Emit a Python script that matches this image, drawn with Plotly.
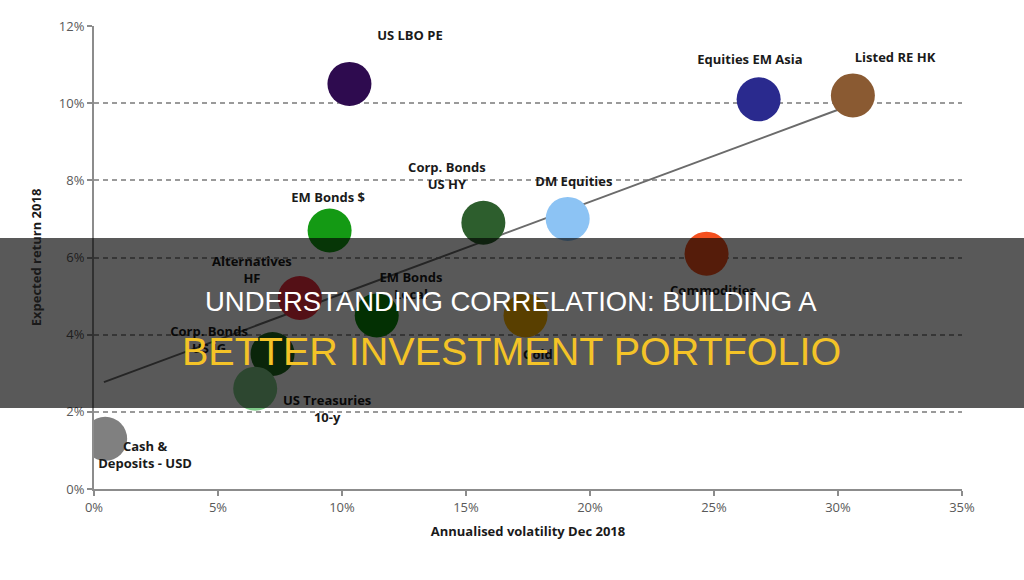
import plotly.graph_objects as go

# ---- data ----
assets = ["US LBO PE", "Equities EM Asia", "Listed RE HK", "EM Bonds $",
          "Corp. Bonds US HY", "DM Equities", "Commodities", "Alternatives HF",
          "EM Bonds Local", "Gold", "Corp. Bonds US IG", "US Treasuries 10-y",
          "Cash & Deposits - USD"]
volatility = [10.3, 26.8, 30.6, 9.5, 15.7, 19.1, 24.7, 8.3, 11.4, 17.4, 7.2, 6.5, 0.45]
exp_return = [10.5, 10.1, 10.2, 6.7, 6.9, 7.0, 6.1, 4.95, 4.5, 4.5, 3.5, 2.6, 1.3]
labels = ["US LBO PE", "Equities EM Asia", "Listed RE HK", "EM Bonds $",
          "Corp. Bonds<br>US HY", "DM Equities", "Commodities", "Alternatives<br>HF",
          "EM Bonds<br>Local", "Gold", "Corp. Bonds<br>US IG", "US Treasuries<br>10-y",
          "Cash &<br>Deposits - USD"]
colors = ["#2e0b4f", "#2a2a8e", "#8a5a32", "#149a14", "#2d5e2d", "#8cc3f4",
          "#f3501f", "#f03040", "#0a8a0a", "#ffb400", "#1e6a1e", "#80cc8a", "#808080"]

trend_x = [0.4, 30.3]
trend_y = [2.77, 9.9]

x_ticks = [0, 5, 10, 15, 20, 25, 30, 35]
y_ticks = [0, 2, 4, 6, 8, 10, 12]

title_line1 = "UNDERSTANDING CORRELATION: BUILDING A"
title_line2 = "BETTER INVESTMENT PORTFOLIO"

# label offsets from bubble centre (data units) - layout only
label_dx = [2.44, -0.35, 1.7, -0.06, -1.47, 0.25, 0.26, -1.93, 1.38, 0.5, -2.56, 2.9, 1.61]
label_dy = [1.22, 0.99, 0.95, 0.82, 1.19, 0.93, -0.99, 0.70, 0.72, -1.05, 0.34, -0.55, -0.44]

fig = go.Figure()

fig.add_trace(go.Scatter(
    x=trend_x, y=trend_y, mode="lines",
    line=dict(color="#6b6b6b", width=2), hoverinfo="skip", showlegend=False))

fig.add_trace(go.Scatter(
    x=volatility, y=exp_return, mode="markers",
    marker=dict(size=44, color=colors, line=dict(width=0), opacity=1),
    text=assets, hoverinfo="text", showlegend=False, cliponaxis=True))

fig.add_trace(go.Scatter(
    x=[v + d for v, d in zip(volatility, label_dx)],
    y=[r + d for r, d in zip(exp_return, label_dy)],
    mode="text", text=labels, textposition="middle center",
    textfont=dict(family="Open Sans", size=13, color="#1a1a1a", weight="bold"),
    hoverinfo="skip", showlegend=False, cliponaxis=False))

fig.update_layout(
    width=1024, height=580,
    margin=dict(l=94, r=62, t=26, b=91),
    paper_bgcolor="white", plot_bgcolor="white",
    font=dict(family="Open Sans", color="#595959"),
    xaxis=dict(range=[0, 35], tickmode="array", tickvals=x_ticks,
               ticktext=[f"{v}%" for v in x_ticks],
               showgrid=False, zeroline=False, showline=True,
               linecolor="#8c8c8c", linewidth=2, ticks="outside",
               ticklen=5, tickcolor="#8c8c8c", tickwidth=1.5,
               tickfont=dict(size=13, color="#595959"),
               title=dict(text="<b>Annualised volatility Dec 2018</b>",
                          font=dict(size=13, color="#1a1a1a"), standoff=12)),
    yaxis=dict(range=[0, 12], tickmode="array", tickvals=y_ticks,
               ticktext=[f"{v}%" for v in y_ticks],
               showgrid=True, gridcolor="#9a9a9a", gridwidth=1.5,
               griddash="5px,4px", zeroline=False, showline=True,
               linecolor="#8c8c8c", linewidth=2, ticks="outside",
               ticklen=5, tickcolor="#8c8c8c", tickwidth=1.5,
               tickfont=dict(size=13, color="#595959"),
               title=dict(text="<b>Expected return 2018</b>",
                          font=dict(size=13, color="#1a1a1a"), standoff=14)),
    shapes=[dict(type="rect", xref="paper", yref="paper",
                 x0=-0.2, x1=1.2, y0=(489 - 408) / 463, y1=(489 - 238) / 463,
                 fillcolor="rgba(0,0,0,0.65)", line=dict(width=0), layer="above")],
    annotations=[
        dict(text=title_line1, xref="paper", yref="paper",
             x=(511 - 94) / 868, y=(489 - 301) / 463, showarrow=False,
             xanchor="center", yanchor="middle",
             font=dict(family="Liberation Sans", size=27.5, color="#ffffff")),
        dict(text=title_line2, xref="paper", yref="paper",
             x=(511 - 94) / 868, y=(489 - 351) / 463, showarrow=False,
             xanchor="center", yanchor="middle",
             font=dict(family="Liberation Sans", size=39.5, color="#f4c327")),
    ],
)

fig.write_html("out.html",
               config={"displayModeBar": False},
               post_script="document.body.style.margin='0';document.body.style.overflow='hidden';")
